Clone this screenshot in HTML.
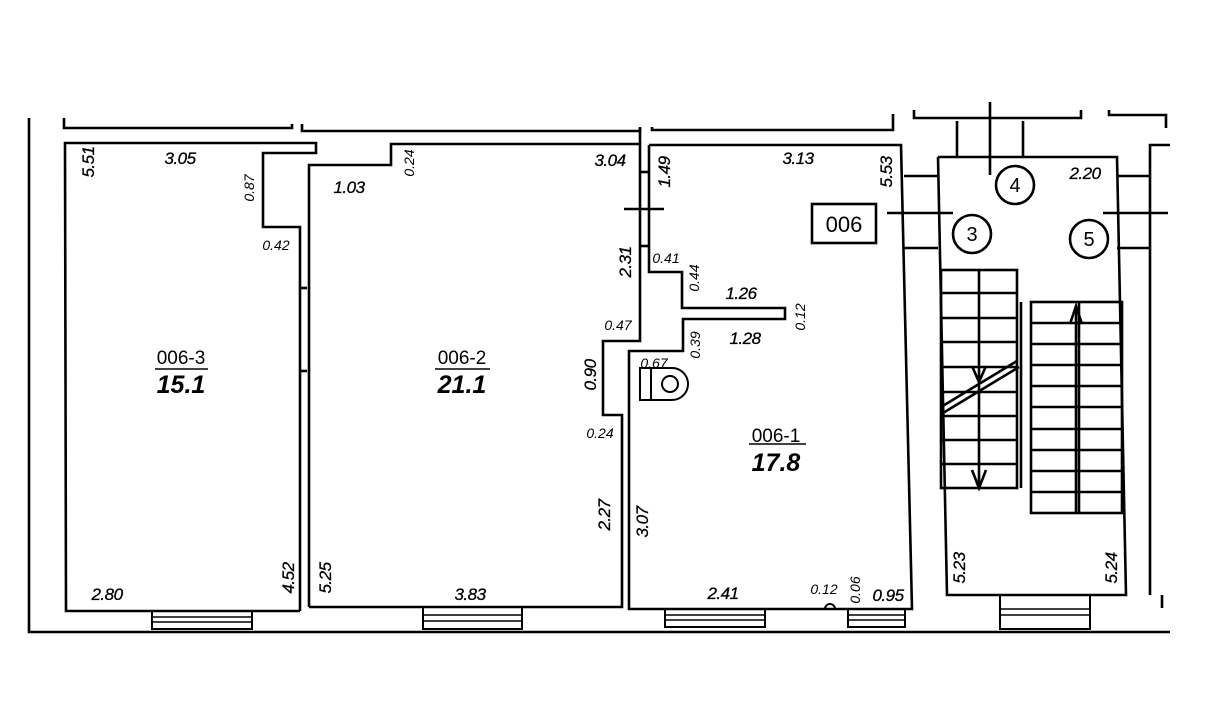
<!DOCTYPE html>
<html><head><meta charset="utf-8"><style>
html,body{margin:0;padding:0;background:#fff;}
svg{display:block;}
text{font-family:"Liberation Sans",sans-serif;font-style:italic;fill:#000;}
.d{font-size:17px;stroke:#000;stroke-width:0.3px;letter-spacing:-0.5px;}
.s{font-size:14px;}
.n{font-size:19px;font-style:normal;}
.a{font-size:25px;font-weight:bold;}
</style></head><body>
<svg width="1209" height="721" viewBox="0 0 1209 721" xmlns="http://www.w3.org/2000/svg">
<g fill="none" stroke="#000" stroke-width="2.6" stroke-linejoin="miter">
<polyline points="29,118 29,632 1170,632"/>
<polyline points="64,118 64,128 292,128 292,124"/>
<polyline points="302,124 302,131 640,131 640,127"/>
<polyline points="652,127 652,130 893,130 893,114"/>
<polyline points="914,110 914,118 1081,118 1081,110"/>
<polyline points="1109,110 1109,115 1166,115 1166,128"/>
<line x1="990" y1="102" x2="990" y2="175"/>
<line x1="957" y1="121" x2="957" y2="157"/>
<line x1="1023" y1="121" x2="1023" y2="157"/>
<polyline points="300,611 66,611 65,143 316,143 316,153 263,153 263,227 300,227 300,611"/>
<line x1="307" y1="288" x2="300" y2="288"/><line x1="307" y1="371" x2="300" y2="371"/>
<polyline points="309,607 309,165 391,165 391,144 640,144 640,341 603,341 603,415 622,415 622,607 309,607"/>
<polyline points="649,145 901,145 912,609 629,609 629,351 683,351 683,319 785,319 785,308 682,308 682,272 649,272 649,145"/>
<line x1="640" y1="172" x2="649" y2="172"/><line x1="640" y1="246" x2="649" y2="246"/>
<line x1="624" y1="209" x2="664" y2="209"/>
<line x1="640" y1="144" x2="640" y2="128"/>
<polyline points="938,157 1117,157 1126,595 947,595 938,157"/>
<line x1="904" y1="176" x2="938" y2="176"/><line x1="904" y1="248" x2="938" y2="248"/>
<line x1="887" y1="213" x2="953" y2="213"/>
<line x1="1117" y1="176" x2="1150" y2="176"/><line x1="1117" y1="248" x2="1150" y2="248"/>
<line x1="1103" y1="213" x2="1168" y2="213"/>
<polyline points="1170,145 1150,145 1150,595"/>
<line x1="1162" y1="595" x2="1162" y2="608"/>
<rect x="941" y="270" width="76" height="218"/>
<line x1="979" y1="270" x2="979" y2="488"/>
<line x1="941" y1="293" x2="1017" y2="293"/><line x1="941" y1="318" x2="1017" y2="318"/>
<line x1="941" y1="342" x2="1017" y2="342"/><line x1="941" y1="367" x2="1017" y2="367"/>
<line x1="941" y1="392" x2="1017" y2="392"/><line x1="941" y1="416" x2="1017" y2="416"/>
<line x1="941" y1="440" x2="1017" y2="440"/><line x1="941" y1="464" x2="1017" y2="464"/>
<line x1="1021" y1="302" x2="1021" y2="488"/>
<rect x="1031" y="302" width="91" height="211"/>
<line x1="1079" y1="302" x2="1079" y2="513"/>
<line x1="1031" y1="323" x2="1122" y2="323"/><line x1="1031" y1="344" x2="1122" y2="344"/>
<line x1="1031" y1="365" x2="1122" y2="365"/><line x1="1031" y1="386" x2="1122" y2="386"/>
<line x1="1031" y1="407" x2="1122" y2="407"/><line x1="1031" y1="429" x2="1122" y2="429"/>
<line x1="1031" y1="450" x2="1122" y2="450"/><line x1="1031" y1="471" x2="1122" y2="471"/>
<line x1="1031" y1="492" x2="1122" y2="492"/>
<polyline points="972,366 979,382 986,366"/>
<polyline points="972,470 979,488 986,470"/>
<polyline points="1070,324 1076,306 1082,324"/>
<line x1="1076" y1="306" x2="1076" y2="513"/>
<line x1="941" y1="407" x2="1017" y2="361"/><line x1="943" y1="413" x2="1019" y2="367"/>
<rect x="152" y="611" width="100" height="18" stroke-width="2"/>
<line x1="152" y1="617" x2="252" y2="617" stroke-width="1.6"/><line x1="152" y1="622" x2="252" y2="622" stroke-width="1.6"/>
<rect x="423" y="607" width="99" height="22" stroke-width="2"/>
<line x1="423" y1="615" x2="522" y2="615" stroke-width="1.6"/><line x1="423" y1="621" x2="522" y2="621" stroke-width="1.6"/>
<rect x="665" y="609" width="100" height="18" stroke-width="2"/>
<line x1="665" y1="615" x2="765" y2="615" stroke-width="1.6"/><line x1="665" y1="620" x2="765" y2="620" stroke-width="1.6"/>
<rect x="848" y="609" width="57" height="18" stroke-width="2"/>
<line x1="848" y1="615" x2="905" y2="615" stroke-width="1.6"/><line x1="848" y1="620" x2="905" y2="620" stroke-width="1.6"/>
<rect x="1000" y="595" width="90" height="34" stroke-width="2"/>
<line x1="1000" y1="609" x2="1090" y2="609" stroke-width="1.6"/><line x1="1000" y1="615" x2="1090" y2="615" stroke-width="1.6"/>
<path d="M825,609 a5,5 0 0 1 10,0" stroke-width="2"/>
<rect x="640" y="368" width="11" height="32" stroke-width="2"/>
<path d="M651,368 H672 A16,16 0 0 1 672,400 H651" stroke-width="2"/>
<circle cx="670" cy="384" r="8" stroke-width="2"/>
<circle cx="1015" cy="185" r="19"/>
<circle cx="972" cy="234" r="19"/>
<circle cx="1089" cy="239" r="19"/>
<rect x="812" y="204" width="64" height="39"/>
<line x1="155" y1="369" x2="208" y2="369" stroke-width="1.6"/>
<line x1="435" y1="369" x2="490" y2="369" stroke-width="1.6"/>
<line x1="749" y1="444" x2="806" y2="444" stroke-width="1.6"/>
</g>
<g>
<text class="d" x="180" y="164" text-anchor="middle">3.05</text>
<text class="d" transform="translate(94,162) rotate(-90)" text-anchor="middle">5.51</text>
<text class="s" transform="translate(254,188) rotate(-90)" text-anchor="middle">0.87</text>
<text class="s" x="276" y="250" text-anchor="middle">0.42</text>
<text class="n" x="181" y="364" text-anchor="middle">006-3</text>
<text class="a" x="181" y="393" text-anchor="middle">15.1</text>
<text class="d" x="107" y="600" text-anchor="middle">2.80</text>
<text class="d" transform="translate(294,578) rotate(-90)" text-anchor="middle">4.52</text>
<text class="d" x="349" y="193" text-anchor="middle">1.03</text>
<text class="s" transform="translate(414,163) rotate(-90)" text-anchor="middle">0.24</text>
<text class="d" x="610" y="166" text-anchor="middle">3.04</text>
<text class="d" transform="translate(631,262) rotate(-90)" text-anchor="middle">2.31</text>
<text class="s" x="618" y="330" text-anchor="middle">0.47</text>
<text class="d" transform="translate(596,375) rotate(-90)" text-anchor="middle">0.90</text>
<text class="s" x="600" y="438" text-anchor="middle">0.24</text>
<text class="d" transform="translate(610,515) rotate(-90)" text-anchor="middle">2.27</text>
<text class="d" transform="translate(331,578) rotate(-90)" text-anchor="middle">5.25</text>
<text class="d" x="470" y="600" text-anchor="middle">3.83</text>
<text class="n" x="462" y="364" text-anchor="middle">006-2</text>
<text class="a" x="462" y="393" text-anchor="middle">21.1</text>
<text class="d" transform="translate(670,172) rotate(-90)" text-anchor="middle">1.49</text>
<text class="d" x="798" y="164" text-anchor="middle">3.13</text>
<text class="d" transform="translate(892,172) rotate(-90)" text-anchor="middle">5.53</text>
<text class="s" x="666" y="263" text-anchor="middle">0.41</text>
<text class="s" transform="translate(699,278) rotate(-90)" text-anchor="middle">0.44</text>
<text class="d" x="741" y="299" text-anchor="middle">1.26</text>
<text class="s" transform="translate(805,317) rotate(-90)" text-anchor="middle">0.12</text>
<text class="d" x="745" y="344" text-anchor="middle">1.28</text>
<text class="s" transform="translate(700,345) rotate(-90)" text-anchor="middle">0.39</text>
<text class="s" x="654" y="368" text-anchor="middle">0.67</text>
<text class="d" transform="translate(648,522) rotate(-90)" text-anchor="middle">3.07</text>
<text class="n" x="776" y="442" text-anchor="middle">006-1</text>
<text class="a" x="776" y="471" text-anchor="middle">17.8</text>
<text class="d" x="723" y="599" text-anchor="middle">2.41</text>
<text class="s" x="824" y="594" text-anchor="middle">0.12</text>
<text class="s" transform="translate(860,590) rotate(-90)" text-anchor="middle">0.06</text>
<text class="d" x="888" y="601" text-anchor="middle">0.95</text>
<text class="d" x="1085" y="179" text-anchor="middle">2.20</text>
<text class="d" transform="translate(965,568) rotate(-90)" text-anchor="middle">5.23</text>
<text class="d" transform="translate(1117,568) rotate(-90)" text-anchor="middle">5.24</text>
<text class="n" x="1015" y="192" text-anchor="middle" style="font-size:20px">4</text>
<text class="n" x="972" y="241" text-anchor="middle" style="font-size:20px">3</text>
<text class="n" x="1089" y="246" text-anchor="middle" style="font-size:20px">5</text>
<text class="n" x="844" y="232" text-anchor="middle" style="font-size:22px">006</text>
</g>
</svg>
</body></html>
